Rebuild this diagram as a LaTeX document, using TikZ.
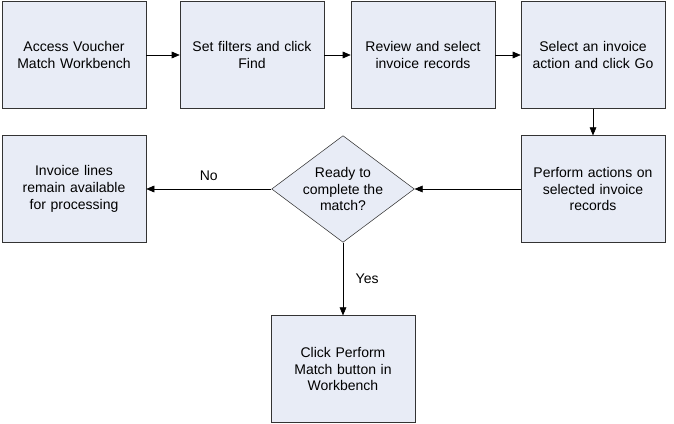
\documentclass[tikz,border=0pt]{standalone}
\usepackage{fontspec}
\setmainfont{Liberation Sans}
\usetikzlibrary{shapes.geometric,arrows.meta}
\definecolor{boxfill}{HTML}{E8ECF6}
\begin{document}
\begin{tikzpicture}[x=0.75pt,y=-0.75pt,
 box/.style={draw=black!80,fill=boxfill,minimum width=108pt,minimum height=80pt,align=center,font=\fontsize{10.5}{12.5}\selectfont,text width=100pt,inner sep=0pt},
 dia/.style={draw=black!80,fill=boxfill,diamond,minimum width=107pt,minimum height=80pt,align=center,font=\fontsize{10.5}{12.5}\selectfont,inner sep=0pt,aspect=1.34},
 arr/.style={-{Triangle[length=6pt,width=5pt]},black},
 lbl/.style={font=\fontsize{10.5}{12.5}\selectfont}]
\useasboundingbox (0,0) rectangle (674,424);
\node[box] (a) at (74,55) {Access Voucher\\Match Workbench};
\node[box] (b) at (252,55) {Set filters and click\\Find};
\node[box] (c) at (423,55) {Review and select\\invoice records};
\node[box] (d) at (593,55) {Select an invoice\\action and click Go};
\node[box] (e) at (593,189) {Perform actions on\\selected invoice\\records};
\node[dia] (f) at (343,189) {Ready to\\complete the\\match?};
\node[box] (g) at (74,189) {Invoice lines\\remain available\\for processing};
\node[box] (h) at (343,369) {Click Perform\\Match button in\\Workbench};
\draw[arr] (a) -- (b);
\draw[arr] (b) -- (c);
\draw[arr] (c) -- (d);
\draw[arr] (d) -- (e);
\draw[arr] (e) -- (f);
\draw[arr] (f) -- node[lbl,above=3pt]{No} (g);
\draw[arr] (f) -- node[lbl,right=6pt]{Yes} (h);
\end{tikzpicture}
\end{document}
